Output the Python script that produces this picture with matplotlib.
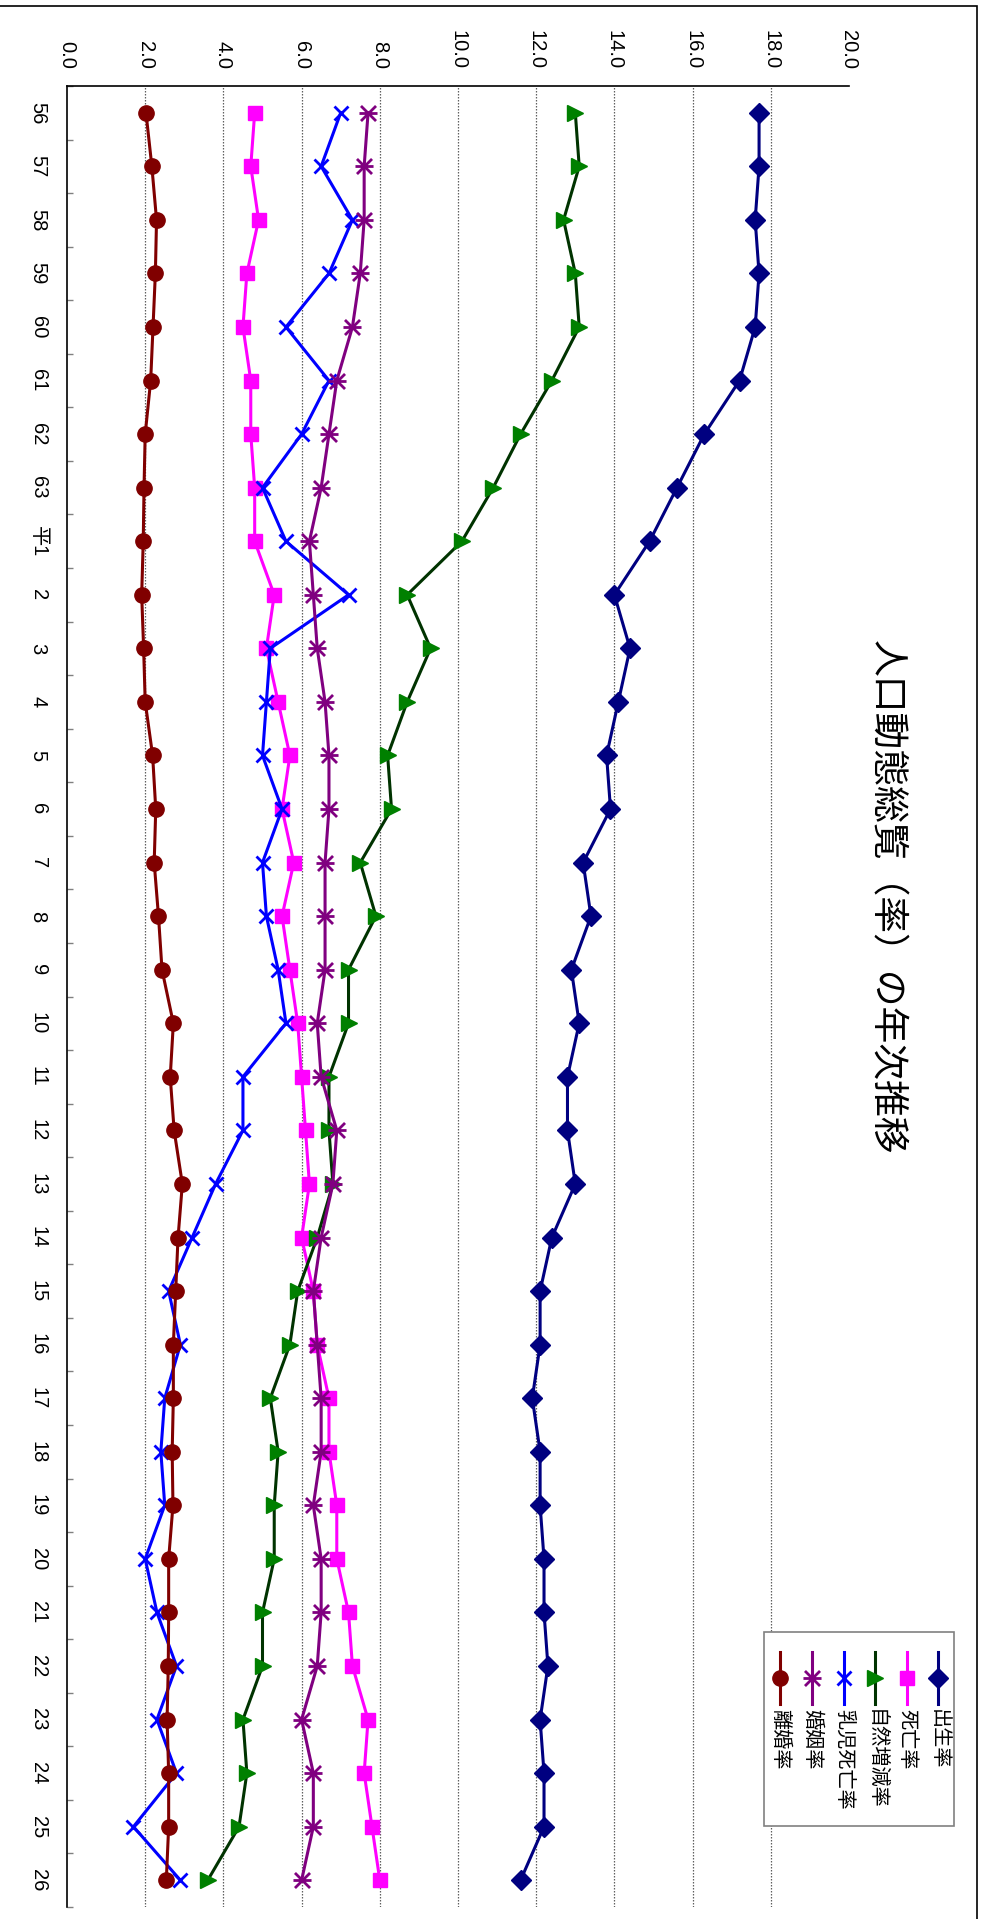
import matplotlib
matplotlib.use("Agg")
import matplotlib.pyplot as plt
from matplotlib.lines import Line2D
from matplotlib.patches import Rectangle
from matplotlib.path import Path

plt.rcParams['font.family'] = ['Liberation Sans', 'Noto Sans CJK JP']

# 年次 (昭和56年～平成26年)
years = ['56', '57', '58', '59', '60', '61', '62', '63', '平1',
         '2', '3', '4', '5', '6', '7', '8', '9', '10', '11', '12', '13',
         '14', '15', '16', '17', '18', '19', '20', '21', '22', '23', '24', '25', '26']

birth = [17.7, 17.7, 17.6, 17.7, 17.6, 17.2, 16.3, 15.6, 14.9,
         14.0, 14.4, 14.1, 13.8, 13.9, 13.2, 13.4, 12.9, 13.1, 12.8, 12.8, 13.0,
         12.4, 12.1, 12.1, 11.9, 12.1, 12.1, 12.2, 12.2, 12.3, 12.1, 12.2, 12.2, 11.6]
death = [4.8, 4.7, 4.9, 4.6, 4.5, 4.7, 4.7, 4.8, 4.8,
         5.3, 5.1, 5.4, 5.7, 5.5, 5.8, 5.5, 5.7, 5.9, 6.0, 6.1, 6.2,
         6.0, 6.3, 6.4, 6.7, 6.7, 6.9, 6.9, 7.2, 7.3, 7.7, 7.6, 7.8, 8.0]
natural = [13.0, 13.1, 12.7, 13.0, 13.1, 12.4, 11.6, 10.9, 10.1,
           8.7, 9.3, 8.7, 8.2, 8.3, 7.5, 7.9, 7.2, 7.2, 6.7, 6.7, 6.8,
           6.4, 5.9, 5.7, 5.2, 5.4, 5.3, 5.3, 5.0, 5.0, 4.5, 4.6, 4.4, 3.6]
infant = [7.0, 6.5, 7.3, 6.7, 5.6, 6.7, 6.0, 5.0, 5.6,
          7.2, 5.2, 5.1, 5.0, 5.5, 5.0, 5.1, 5.4, 5.6, 4.5, 4.5, 3.8,
          3.2, 2.6, 2.9, 2.5, 2.4, 2.5, 2.0, 2.3, 2.8, 2.3, 2.8, 1.7, 2.9]
marriage = [7.7, 7.6, 7.6, 7.5, 7.3, 6.9, 6.7, 6.5, 6.2,
            6.3, 6.4, 6.6, 6.7, 6.7, 6.6, 6.6, 6.6, 6.4, 6.5, 6.9, 6.8,
            6.5, 6.3, 6.4, 6.5, 6.5, 6.3, 6.5, 6.5, 6.4, 6.0, 6.3, 6.3, 6.0]
divorce = [2.02, 2.17, 2.29, 2.26, 2.20, 2.14, 2.00, 1.97, 1.95,
           1.91, 1.96, 2.00, 2.19, 2.27, 2.23, 2.34, 2.43, 2.72, 2.64, 2.74, 2.95,
           2.84, 2.78, 2.72, 2.72, 2.69, 2.71, 2.60, 2.60, 2.59, 2.56, 2.60, 2.60, 2.54]

value_ticks = [0, 2, 4, 6, 8, 10, 12, 14, 16, 18, 20]

# excel-style asterisk, turned with the chart (x plus horizontal bar)
asterisk = Path([(-1, -1), (1, 1), (-1, 1), (1, -1), (-1.2, 0), (1.2, 0)],
                [Path.MOVETO, Path.LINETO] * 3)

series = [
    ('出生率', birth, dict(color='#000080', lw=2.2, marker='D', ms=10, mfc='#000080', mec='#000080')),
    ('死亡率', death, dict(color='#FF00FF', lw=2.2, marker='s', ms=10.5, mfc='#FF00FF', mec='#FF00FF')),
    ('自然増減率', natural, dict(color='#003300', lw=2.2, marker='>', ms=11, mfc='#008000', mec='#008000')),
    ('乳児死亡率', infant, dict(color='#0000FF', lw=2.2, marker='x', ms=10, mew=2, mec='#0000FF')),
    ('婚姻率', marriage, dict(color='#800080', lw=2.2, marker=asterisk, ms=13, mew=2, mfc='none', mec='#800080')),
    ('離婚率', divorce, dict(color='#800000', lw=2.2, marker='o', ms=11, mfc='#800000', mec='#800000')),
]

W, H = 986, 1919


def fx(x):
    return x / W


def fy(y):
    return 1 - y / H


fig = plt.figure(figsize=(W / 100, H / 100), dpi=100)
ax = fig.add_axes([fx(67), fy(1907), fx(849) - fx(67), fy(86) - fy(1907)])

idx = list(range(len(years)))
for name, vals, st in series:
    ax.plot(vals, idx, clip_on=False, zorder=3, **st)

for v in value_ticks[1:-1]:
    ax.axvline(v, color='#606060', lw=0.9, ls=(0, (1.2, 1.2)), zorder=1)

ax.set_xlim(0, 20)
ax.set_ylim(len(years) - 0.5, -0.5)

ax.xaxis.tick_top()
ax.set_xticks(value_ticks)
ax.set_xticklabels(['%.1f' % v for v in value_ticks], rotation=-90, fontsize=14.5)
ax.tick_params(axis='x', length=0, pad=12)

ax.set_yticks(idx)
ax.set_yticklabels(years, rotation=-90, fontsize=14.5, va='center')
ax.set_yticks([i - 0.5 for i in range(len(years) + 1)], minor=True)
ax.tick_params(axis='y', which='major', length=0, pad=14)
ax.tick_params(axis='y', which='minor', direction='in', length=4, color='#808080', width=1)

for s in ['right', 'bottom']:
    ax.spines[s].set_visible(False)
ax.spines['top'].set_linewidth(1.2)
ax.spines['left'].set_linewidth(1.2)

# title
fig.text(fx(886), fy(897), '人口動態総覧（率）の年次推移', rotation=-90,
         ha='center', va='center', fontsize=26.5,
         family=['Noto Sans CJK JP', 'DejaVu Sans'])

# legend, drawn by hand since everything is turned 90 degrees
fig.add_artist(Rectangle((fx(764), fy(1826)), fx(954) - fx(764), fy(1632) - fy(1826),
                         transform=fig.transFigure, fc='white', ec='#808080', lw=1.2, zorder=5))
leg_x = [938, 906.5, 875, 843.5, 812, 780]
for (name, vals, st), lx in zip(series, leg_x):
    fig.add_artist(Line2D([fx(lx)] * 3, [fy(1652), fy(1678), fy(1704)], markevery=[1],
                          transform=fig.transFigure, zorder=6, **st))
    fig.text(fx(lx), fy(1709), name, rotation=-90, ha='center', va='top', fontsize=14.5,
             family=['Noto Sans CJK JP', 'DejaVu Sans'], zorder=6)

# chart area border
fig.add_artist(Rectangle((fx(-5), fy(1930)), fx(977) - fx(-5), fy(6) - fy(1930),
                         transform=fig.transFigure, fc='none', ec='black', lw=1.2))

fig.savefig('out.png', dpi=100)
